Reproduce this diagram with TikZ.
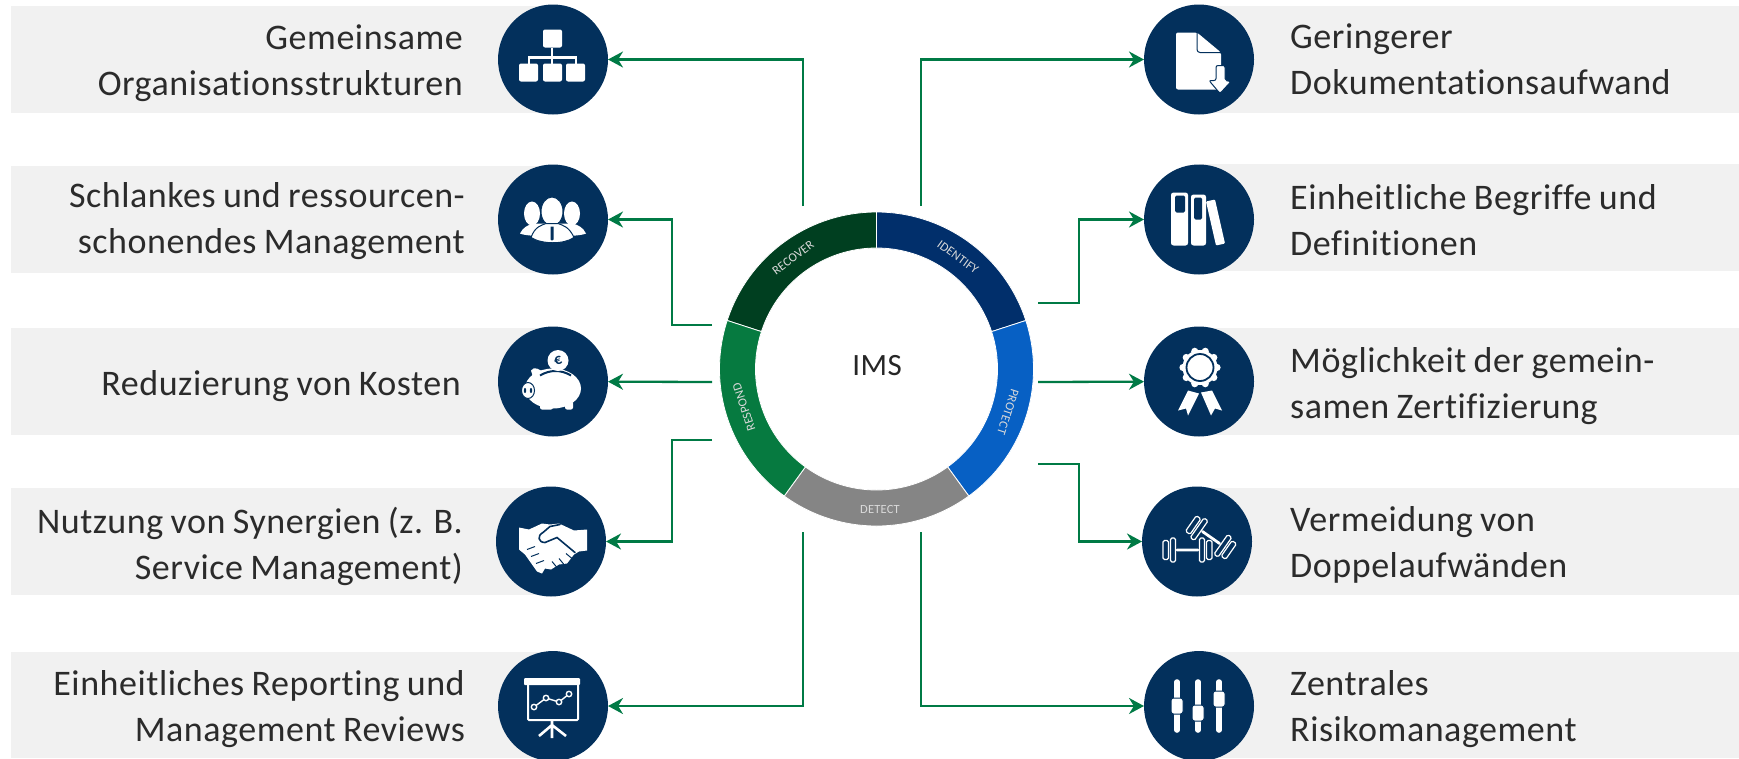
\documentclass[tikz,border=0pt]{standalone}
\usepackage{fontspec}
\setmainfont[LetterSpace=1.5,WordSpace=0.85,Ligatures=CommonOff]{Carlito}
\usepackage{xcolor}
\usetikzlibrary{arrows.meta}

\definecolor{navyhub}{HTML}{03305C}
\definecolor{linkgreen}{HTML}{007A45}
\definecolor{barback}{HTML}{F1F1F1}
\definecolor{labelgrey}{HTML}{2B2B2B}
\definecolor{ringrecover}{HTML}{003F20}
\definecolor{ringidentify}{HTML}{012F6B}
\definecolor{ringprotect}{HTML}{0760C4}
\definecolor{ringdetect}{HTML}{858585}
\definecolor{ringrespond}{HTML}{067A40}

\begin{document}
\begin{tikzpicture}[x=1pt,y=1pt,
    hub/.style={circle,fill=navyhub,minimum size=110pt,inner sep=0pt,outer sep=0pt},
    barbox/.style={fill=barback,draw=none},
    leftlabel/.style={anchor=east,align=right,text=labelgrey,inner sep=0pt,font=\fontsize{36}{46}\selectfont},
    rightlabel/.style={anchor=west,align=left,text=labelgrey,inner sep=0pt,font=\fontsize{36}{46}\selectfont},
    ringlabel/.style={text=white!85!black,inner sep=0pt,font=\fontsize{12.5}{12.5}\selectfont},
    whiteicon/.style={fill=white,draw=none},
    cutline/.style={draw=navyhub,line width=1pt},
    iconline/.style={draw=white,line width=2pt}]
\useasboundingbox (0,0) rectangle (1739,-758);

% grey bars
\fill[barbox] (11,-6) rectangle (553,-113);
\fill[barbox] (11,-166) rectangle (553,-273);
\fill[barbox] (11,-328) rectangle (553,-435);
\fill[barbox] (11,-488) rectangle (551,-595);
\fill[barbox] (11,-652) rectangle (553,-758);
\fill[barbox] (1199,-6) rectangle (1739,-113);
\fill[barbox] (1199,-164) rectangle (1739,-271);
\fill[barbox] (1199,-328) rectangle (1739,-435);
\fill[barbox] (1197,-488) rectangle (1739,-595);
\fill[barbox] (1199,-652) rectangle (1739,-758);

\begin{scope}[every node/.style={hub}]
    \node (org) at (553,-59.5) {};
    \node (team) at (553,-219.5) {};
    \node (piggy) at (553,-381.5) {};
    \node (shake) at (551,-541.5) {};
    \node (board) at (553,-706) {};
    \node (doc) at (1199,-59.5) {};
    \node (books) at (1199,-219.5) {};
    \node (award) at (1199,-381.5) {};
    \node (bells) at (1197,-541.5) {};
    \node (sliders) at (1199,-706) {};
\end{scope}

\node[leftlabel] (orgtext) at (463,-63) {Gemeinsame\\Organisationsstrukturen};
\node[leftlabel] (teamtext) at (465,-221) {Schlankes und ressourcen-\\schonendes Management};
\node[leftlabel] (piggytext) at (461,-386) {Reduzierung von Kosten};
\node[leftlabel] (shaketext) at (463,-546) {Nutzung von Synergien (z. B.\\Service Management)};
\node[leftlabel] (boardtext) at (465,-709) {Einheitliches Reporting und\\Management Reviews};
\node[rightlabel] (doctext) at (1290,-59) {Geringerer\\Dokumentationsaufwand};
\node[rightlabel] (bookstext) at (1290,-220) {Einheitliche Begriffe und\\Definitionen};
\node[rightlabel] (awardtext) at (1290,-386) {Möglichkeit der gemein-\\samen Zertifizierung};
\node[rightlabel] (bellstext) at (1290,-545) {Vermeidung von\\Doppelaufwänden};
\node[rightlabel] (sliderstext) at (1290,-709) {Zentrales\\Risikomanagement};

% ring
\coordinate (ims) at (876.5,-369);
\foreach \angA/\angB/\col in {90/162/ringrecover, 18/90/ringidentify, -54/18/ringprotect, -126/-54/ringdetect, 162/234/ringrespond}
    \fill[\col,draw=white,line width=0.8pt] (ims) ++(\angA:157) arc (\angA:\angB:157) -- ++(\angB:-36) arc (\angB:\angA:121) -- cycle;
\node[inner sep=0pt,text=black!85,font=\fontsize{31}{31}\selectfont] (imstext) at (877,-366) {IMS};
\node[ringlabel,rotate=37] (recover) at (793,-258) {RECOVER};
\node[ringlabel,rotate=-36] (identify) at (958,-257) {IDENTIFY};
\node[ringlabel,rotate=-108] (protect) at (1008,-412) {PROTECT};
\node[ringlabel] (detect) at (880,-509) {DETECT};
\node[ringlabel,rotate=108] (respond) at (744,-407) {RESPOND};

\coordinate (s1) at (803,-206);
\coordinate (s2) at (712,-325);
\coordinate (s3) at (712,-382);
\coordinate (s4) at (712,-440);
\coordinate (s5) at (803,-532);
\coordinate (t1) at (921,-206);
\coordinate (t2) at (1038,-303);
\coordinate (t3) at (1038,-382);
\coordinate (t4) at (1038,-464);
\coordinate (t5) at (921,-532);

\begin{scope}[>={Stealth[length=15pt,width=16pt]},linkgreen,line width=2.3pt]
    \draw[->] (s1) |- (org);
    \draw[->] (s2) -- ++(-40,0) |- (team);
    \draw[->] (s3) -- (piggy);
    \draw[->] (s4) -- ++(-40,0) |- (shake);
    \draw[->] (s5) |- (board);
    \draw[->] (t1) |- (doc);
    \draw[->] (t2) -- ++(41,0) |- (books);
    \draw[->] (t3) -- (award);
    \draw[->] (t4) -- ++(41,0) |- (bells);
    \draw[->] (t5) |- (sliders);
\end{scope}

% icons
\begin{scope}[shift={(org)}]
    \draw[white,line width=2.4pt] (-1,12) -- (-1,-4) (-24,-4) -- (-24,2) -- (23,2) -- (23,-4);
    \fill[whiteicon,rounded corners=2pt] (-10,30) rectangle (9,12) (-34,-4) rectangle (-15,-22) (-10,-4) rectangle (9,-22) (13,-4) rectangle (32,-22);
\end{scope}

\begin{scope}[shift={(team)}]
    \fill[whiteicon] (-21,6) ellipse (8 and 12) (19,6) ellipse (8 and 12);
    \fill[whiteicon] (-33,-14) .. controls (-30,-8) and (-26,-6) .. (-20,-4) -- (20,-4) .. controls (26,-6) and (30,-8) .. (33,-14) .. controls (25,-18) and (-25,-18) .. (-33,-14) -- cycle;
    \filldraw[fill=white,cutline] (-1,8) ellipse (11 and 14.5);
    \filldraw[fill=white,cutline] (-22,-18) .. controls (-18,-7) and (-12,-6) .. (-7,-4) -- (5,-4) .. controls (10,-6) and (16,-7) .. (21,-18) .. controls (11,-25) and (-11,-25) .. (-22,-18) -- cycle;
    \fill[navyhub] (-2.5,-7) -- (0.5,-7) -- (0.5,-20) -- (-1,-21) -- (-2.5,-20) -- cycle;
\end{scope}

\begin{scope}[shift={(piggy)}]
    \fill[whiteicon] (0,-7) ellipse (28 and 20);
    \fill[whiteicon] (-18,-2) -- (-22,11) .. controls (-19,16) and (-13,12) .. (-8,8) -- cycle;
    \fill[whiteicon,rounded corners=2pt] (-13,-20) rectangle (0,-28) (12,-20) rectangle (20,-28);
    \filldraw[fill=white,cutline] (-25,-9) ellipse (6.5 and 8);
    \fill[navyhub] (-28,-9) ellipse (1.2 and 2.6) (-22,-9) ellipse (1.2 and 2.6);
    \draw[navyhub,line width=2pt] (-13,6) .. controls (-3,12) and (8,12) .. (18,6);
    \fill[whiteicon] (5,21) circle (10.5);
    \node[inner sep=0pt,text=navyhub,font=\bfseries\fontsize{15}{15}\selectfont,rotate=15] (euro) at (5,21) {€};
\end{scope}

\begin{scope}[shift={(shake)}]
    \fill[whiteicon] (-32,14) -- (-22,12) -- (-9,18) -- (-1,17) -- (8,18) -- (23,11) -- (36,12) -- (36,-9) -- (28,-10) -- (23,-13) -- (16,-22) -- (8,-23) -- (0,-28) -- (-6,-27) -- (-9,-32) -- (-14,-30) -- (-26,-13) -- (-32,-8) -- cycle;
    \draw[navyhub,line width=1.6pt,line cap=round] (24,-11) -- (6,4) -- (-6,-1) .. controls (-13,-1) and (-14,6) .. (-8,9) -- (-1,15) -- (9,17);
    \draw[navyhub,line width=1pt] (1,-20) -- (6,-26) (8,-17) -- (13,-23) (15,-12) -- (21,-17) (-24,-8) -- (-16,-5) (-20,-15) -- (-12,-12) (-15,-22) -- (-7,-19);
\end{scope}

\begin{scope}[shift={(board)}]
    \fill[whiteicon,rounded corners=1pt] (-29,28) rectangle (27,21);
    \draw[iconline,rounded corners=1pt] (-25,21) -- (-25,-14) -- (25,-14) -- (25,21);
    \draw[white,line width=1.4pt] (-19,-1) -- (-7,8) -- (6,4) -- (16,12);
    \filldraw[fill=navyhub,draw=white,line width=1.4pt] (-19,-1) circle (2.7) (-7,8) circle (2.7) (6,4) circle (2.7) (16,12) circle (2.7);
    \draw[white,line width=2.6pt] (-1,-14) -- (-1,-32) (-14,-30) -- (-1,-19) -- (13,-30);
\end{scope}

\begin{scope}[shift={(doc)}]
    \fill[whiteicon,rounded corners=2pt] (-23,27) -- (-2,27) -- (22,7) -- (22,-30) -- (-23,-30) -- cycle;
    \draw[cutline,rounded corners=3pt] (-2,27) -- (-2,7) -- (22,7);
    \filldraw[fill=white,cutline,rounded corners=2pt] (17,-6) -- (26,-6) -- (26,-21) -- (32,-22) -- (21,-34) -- (10,-21) -- (17,-21) -- cycle;
\end{scope}

\begin{scope}[shift={(books)}]
    \fill[whiteicon,rounded corners=2.5pt] (-28,27) rectangle (-11,-26) (-8,25) rectangle (7,-26);
    \fill[navyhub,rounded corners=1.5pt] (-24,24) rectangle (-14,7) (-5,22) rectangle (3,0);
    \fill[whiteicon,rounded corners=1pt] (7,18) -- (16,20) -- (26,-24) -- (17,-26) -- cycle;
\end{scope}

\begin{scope}[shift={(award)}]
    \foreach \ang in {0,36,...,324}
        \fill[whiteicon] (1,14) ++(\ang:17) circle (3.6);
    \fill[whiteicon] (1,14) circle (17.5);
    \draw[navyhub,line width=1.8pt] (1,14) circle (13.5);
    \fill[whiteicon] (-11,-9) -- (0,-12) -- (-11,-34) -- (-13,-27) -- (-21,-29) -- cycle;
    \fill[whiteicon] (2,-11) -- (13,-9) -- (23,-29) -- (16,-27) -- (12,-34) -- cycle;
\end{scope}

\begin{scope}[shift={(bells)}]
    \foreach \dx/\dy/\ang in {-9.5/-8.5/0, 14/4/-35} {
        \begin{scope}[shift={(\dx,\dy)},rotate=\ang,line width=1.2pt,rounded corners=1.5pt]
            \fill[white] (-12,-1.4) rectangle (12,1.4);
            \filldraw[fill=navyhub,draw=white] (-17,-12) rectangle (-12,12);
            \filldraw[fill=navyhub,draw=white] (12,-12) rectangle (17,12);
            \draw[white] (-19,-9.5) rectangle (-24.5,9.5);
            \draw[white] (19,-9.5) rectangle (24.5,9.5);
        \end{scope}
    }
\end{scope}

\begin{scope}[shift={(sliders)}]
    \draw[white,line width=5.6pt,line cap=round] (-22,24) -- (-22,-24) (-1,24) -- (-1,-24) (20,24) -- (20,-24);
    \filldraw[fill=white,cutline,rounded corners=2.5pt] (-28,8) rectangle (-16,-8);
    \filldraw[fill=white,cutline,rounded corners=2.5pt] (-7,1) rectangle (5,-15);
    \filldraw[fill=white,cutline,rounded corners=2.5pt] (14,15) rectangle (26,-1);
\end{scope}

\end{tikzpicture}
\end{document}
